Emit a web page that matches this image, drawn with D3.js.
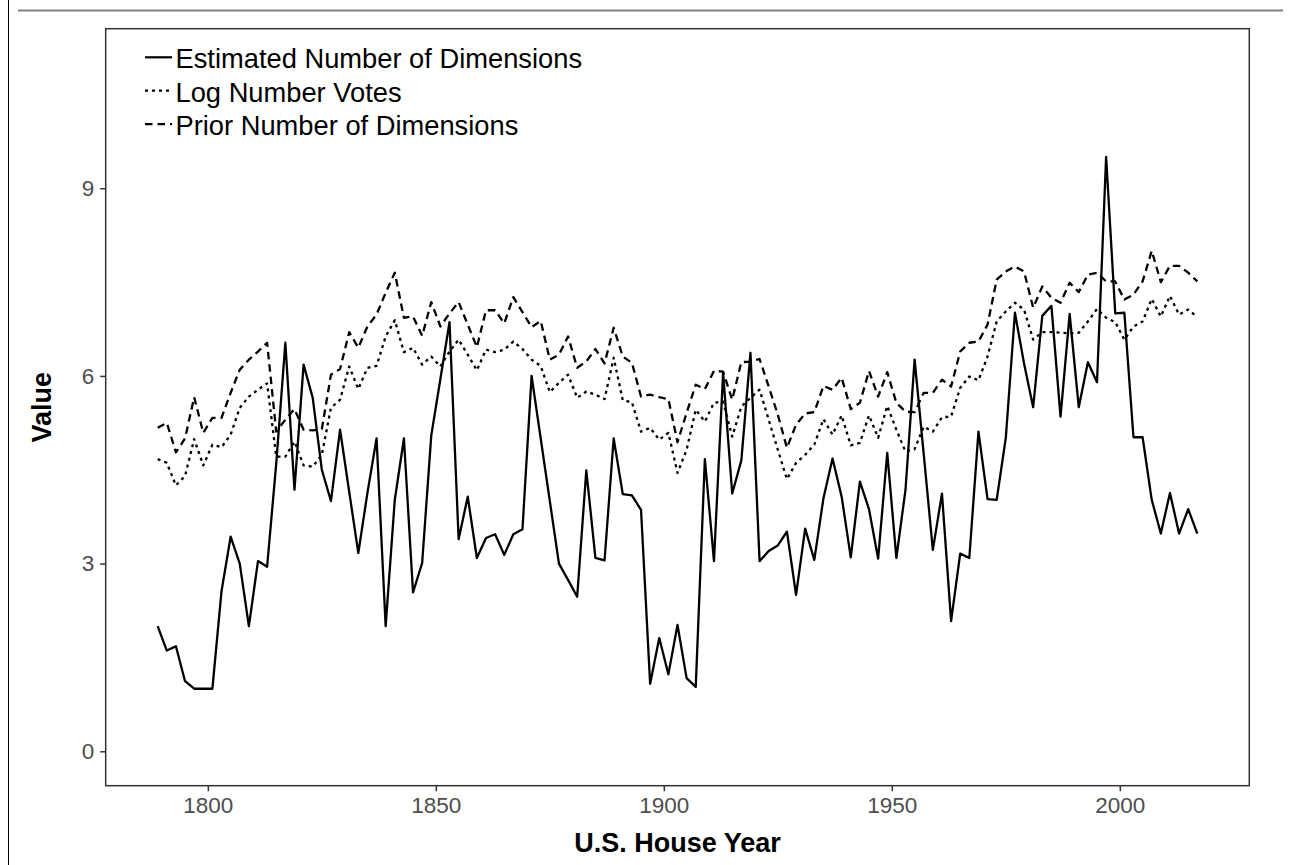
<!DOCTYPE html>
<html lang="en">
<head>
<meta charset="UTF-8">
<title>Estimated Number of Dimensions by U.S. House Year</title>
<script src="https://d3js.org/d3.v7.min.js"></script>
<style>
  body { margin: 0; background: #fff; }
  svg text { font-family: "Liberation Sans", Arial, Helvetica, sans-serif; }
</style>
</head>
<body>
<div id="chart"></div>
<script>
// House years (one per Congress)
const years = [
  1789, 1791, 1793, 1795, 1797, 1799, 1801, 1803, 1805, 1807,
  1809, 1811, 1813, 1815, 1817, 1819, 1821, 1823, 1825, 1827,
  1829, 1831, 1833, 1835, 1837, 1839, 1841, 1843, 1845, 1847,
  1849, 1851, 1853, 1855, 1857, 1859, 1861, 1863, 1865, 1867,
  1869, 1871, 1873, 1875, 1877, 1879, 1881, 1883, 1885, 1887,
  1889, 1891, 1893, 1895, 1897, 1899, 1901, 1903, 1905, 1907,
  1909, 1911, 1913, 1915, 1917, 1919, 1921, 1923, 1925, 1927,
  1929, 1931, 1933, 1935, 1937, 1939, 1941, 1943, 1945, 1947,
  1949, 1951, 1953, 1955, 1957, 1959, 1961, 1963, 1965, 1967,
  1969, 1971, 1973, 1975, 1977, 1979, 1981, 1983, 1985, 1987,
  1989, 1991, 1993, 1995, 1997, 1999, 2001, 2003, 2005, 2007,
  2009, 2011, 2013, 2015, 2017
];

const estimatedDims = [
  2.00, 1.61, 1.68, 1.12, 1.00, 1.00, 1.00, 2.56, 3.43, 3.00,
  2.00, 3.04, 2.95, 4.60, 6.53, 4.18, 6.18, 5.65, 4.50, 4.00,
  5.14, 4.15, 3.17, 4.13, 5.00, 2.00, 4.02, 5.00, 2.54, 3.01,
  5.05, 5.95, 6.86, 3.39, 4.07, 3.09, 3.41, 3.47, 3.14, 3.47,
  3.55, 6.00, 5.00, 4.00, 3.00, 2.74, 2.47, 4.49, 3.09, 3.05,
  5.00, 4.11, 4.09, 3.86, 1.08, 1.81, 1.23, 2.02, 1.17, 1.03,
  4.67, 3.04, 6.05, 4.12, 4.65, 6.37, 3.04, 3.20, 3.29, 3.51,
  2.50, 3.56, 3.06, 4.04, 4.68, 4.07, 3.10, 4.31, 3.87, 3.08,
  4.77, 3.09, 4.18, 6.26, 4.75, 3.22, 4.12, 2.08, 3.16, 3.09,
  5.11, 4.03, 4.02, 5.01, 7.01, 6.20, 5.50, 6.96, 7.12, 5.35,
  6.99, 5.50, 6.22, 5.90, 9.50, 7.00, 7.01, 5.02, 5.02, 4.02,
  3.48, 4.13, 3.48, 3.87, 3.48
];

const logVotes = [
  4.67, 4.61, 4.25, 4.40, 4.99, 4.57, 4.90, 4.86, 5.06, 5.49,
  5.67, 5.78, 5.88, 4.71, 4.71, 4.95, 4.57, 4.55, 4.74, 5.49,
  5.62, 6.15, 5.79, 6.13, 6.16, 6.63, 6.89, 6.38, 6.45, 6.18,
  6.31, 6.15, 6.39, 6.58, 6.34, 6.09, 6.42, 6.38, 6.42, 6.55,
  6.43, 6.26, 6.16, 5.74, 5.89, 6.02, 5.65, 5.75, 5.70, 5.63,
  6.29, 5.61, 5.58, 5.11, 5.17, 4.98, 5.09, 4.45, 4.82, 5.46,
  5.27, 5.57, 5.59, 5.03, 5.51, 5.65, 5.78, 5.30, 4.82, 4.35,
  4.61, 4.74, 4.90, 5.31, 5.06, 5.37, 4.89, 4.93, 5.37, 5.01,
  5.52, 5.14, 4.79, 4.83, 5.19, 5.11, 5.34, 5.35, 5.81, 5.99,
  5.93, 6.31, 6.87, 7.03, 7.17, 7.06, 6.58, 6.70, 6.70, 6.69,
  6.68, 6.69, 6.87, 7.07, 6.93, 6.86, 6.58, 6.79, 6.87, 7.23,
  6.95, 7.28, 6.98, 7.06, 6.94
];

const priorDims = [
  5.17, 5.25, 4.78, 5.00, 5.66, 5.09, 5.33, 5.33, 5.73, 6.10,
  6.26, 6.39, 6.53, 5.11, 5.30, 5.47, 5.14, 5.13, 5.15, 6.02,
  6.11, 6.70, 6.45, 6.79, 6.98, 7.33, 7.65, 6.93, 6.95, 6.64,
  7.18, 6.79, 7.00, 7.18, 6.82, 6.46, 7.05, 7.05, 6.84, 7.26,
  7.02, 6.78, 6.88, 6.26, 6.34, 6.63, 6.13, 6.23, 6.43, 6.20,
  6.77, 6.31, 6.21, 5.67, 5.70, 5.66, 5.63, 4.94, 5.41, 5.86,
  5.79, 6.08, 6.07, 5.62, 6.22, 6.23, 6.27, 5.83, 5.38, 4.85,
  5.22, 5.40, 5.42, 5.84, 5.78, 5.97, 5.47, 5.57, 6.08, 5.67,
  6.06, 5.57, 5.43, 5.42, 5.73, 5.73, 5.94, 5.83, 6.39, 6.53,
  6.55, 6.82, 7.54, 7.67, 7.75, 7.67, 7.09, 7.43, 7.25, 7.17,
  7.49, 7.34, 7.62, 7.65, 7.51, 7.51, 7.22, 7.30, 7.51, 8.00,
  7.50, 7.76, 7.76, 7.65, 7.51
];

const seriesNames = ["Estimated Number of Dimensions", "Log Number Votes", "Prior Number of Dimensions"];
const xTicks = [1800, 1850, 1900, 1950, 2000];
const yTicks = [0, 3, 6, 9];

const W = 1289, H = 865;
const panel = { left: 105.7, right: 1249.3, top: 28.7, bottom: 785.7 };

const svg = d3.select("#chart").append("svg")
  .attr("width", W)
  .attr("height", H);

// outer frame remnants (top rule + left edge)
svg.append("line")
  .attr("x1", 18).attr("x2", 1283).attr("y1", 10.5).attr("y2", 10.5)
  .attr("stroke", "#808080").attr("stroke-width", 2);
svg.append("line")
  .attr("x1", 8.5).attr("x2", 8.5).attr("y1", 0).attr("y2", H)
  .attr("stroke", "#000").attr("stroke-width", 1);

// scales, with ggplot style 5% padding
const x = d3.scaleLinear()
  .domain([1789 - 0.05 * 228, 2017 + 0.05 * 228])
  .range([panel.left, panel.right]);

const y = d3.scaleLinear()
  .domain([-0.55, 11.55])
  .range([panel.bottom, panel.top]);

// axes
const xAxis = d3.axisBottom(x).tickValues(xTicks).tickFormat(d3.format("d")).tickSize(5.5).tickPadding(6);
const yAxis = d3.axisLeft(y).tickValues(yTicks).tickSize(5.5).tickPadding(6);

const gx = svg.append("g")
  .attr("transform", `translate(0,${panel.bottom})`)
  .call(xAxis);
const gy = svg.append("g")
  .attr("transform", `translate(${panel.left},0)`)
  .call(yAxis);

[gx, gy].forEach(g => {
  g.select(".domain").remove();
  g.selectAll(".tick line").attr("stroke", "#333333").attr("stroke-width", 1.5);
  g.selectAll(".tick text")
    .attr("fill", "#4d4d4d")
    .style("font-size", "22.5px");
});

// lines
const lineFor = vals => d3.line()
  .x((d, i) => x(years[i]))
  .y(d => y(d))(vals);

const styles = [
  { vals: estimatedDims, dash: null },
  { vals: logVotes, dash: "3,4" },
  { vals: priorDims, dash: "7.5,5" }
];

styles.forEach(s => {
  svg.append("path")
    .attr("d", lineFor(s.vals))
    .attr("fill", "none")
    .attr("stroke", "#000")
    .attr("stroke-width", 2.3)
    .attr("stroke-linejoin", "round")
    .attr("stroke-dasharray", s.dash);
});

// panel border
svg.append("rect")
  .attr("x", panel.left).attr("y", panel.top)
  .attr("width", panel.right - panel.left)
  .attr("height", panel.bottom - panel.top)
  .attr("fill", "none")
  .attr("stroke", "#333333")
  .attr("stroke-width", 1.5);

// legend
const legend = svg.append("g").attr("transform", "translate(145,0)");
seriesNames.forEach((name, i) => {
  const baseY = 68.3 + i * 33.4;
  legend.append("line")
    .attr("x1", 0).attr("x2", 27)
    .attr("y1", baseY - 11).attr("y2", baseY - 11)
    .attr("stroke", "#000")
    .attr("stroke-width", 2.2)
    .attr("stroke-dasharray", styles[i].dash);
  legend.append("text")
    .attr("x", 30.5).attr("y", baseY)
    .style("font-size", "27.3px")
    .attr("fill", "#000")
    .text(name);
});

// axis titles
svg.append("text")
  .attr("x", (panel.left + panel.right) / 2)
  .attr("y", 852)
  .attr("text-anchor", "middle")
  .style("font-size", "27px")
  .style("font-weight", "bold")
  .text("U.S. House Year");

svg.append("text")
  .attr("transform", `translate(51,${(panel.top + panel.bottom) / 2}) rotate(-90)`)
  .attr("text-anchor", "middle")
  .style("font-size", "27px")
  .style("font-weight", "bold")
  .text("Value");
</script>
</body>
</html>
